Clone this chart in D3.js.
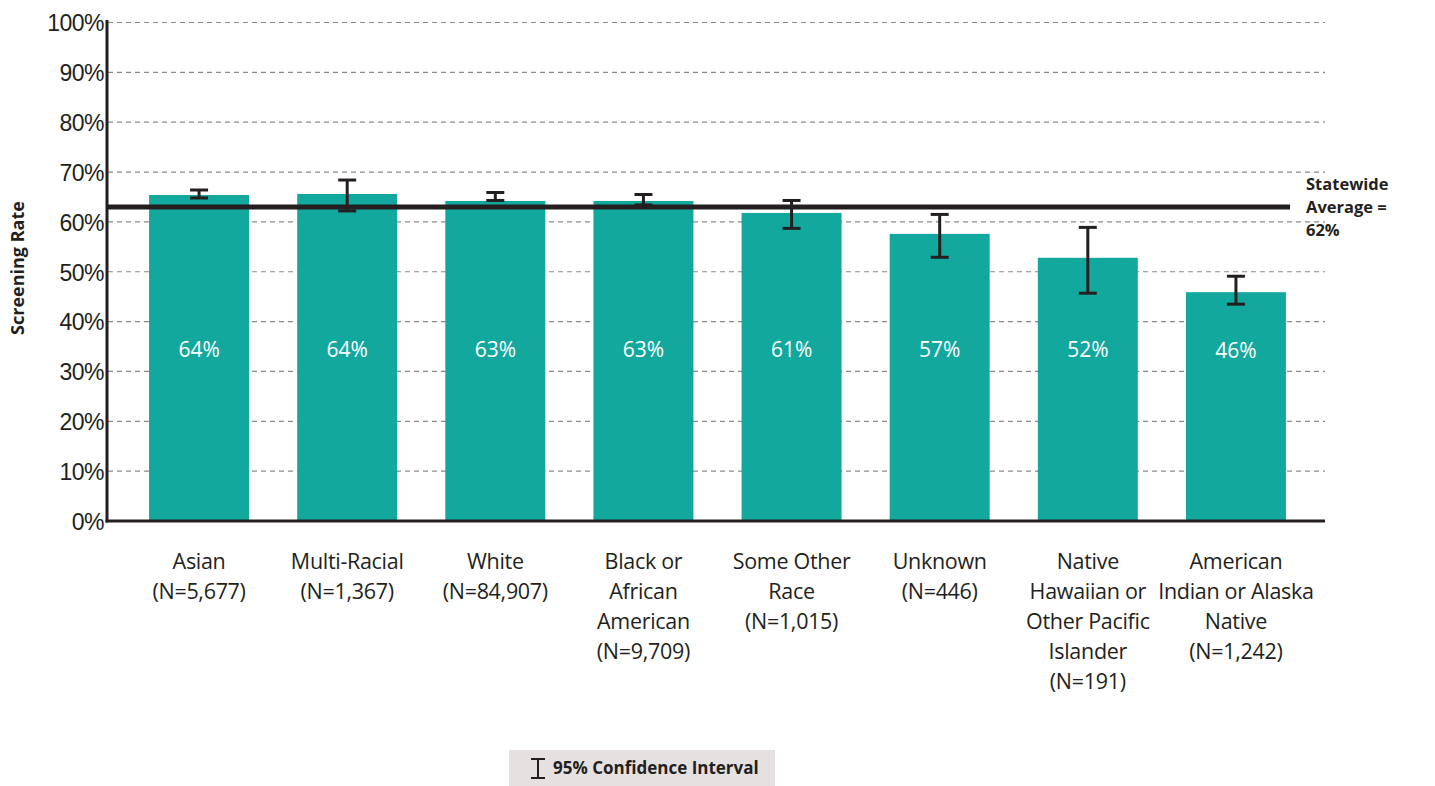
<!DOCTYPE html>
<html><head><meta charset="utf-8">
<script src="https://cdn.jsdelivr.net/npm/d3@7/dist/d3.min.js"></script>
<style>body{margin:0;background:#fff;} svg{display:block;font-family:"Open Sans","Noto Sans",sans-serif;}</style>
</head><body>
<svg id="c" width="1435" height="786"></svg>
<script>
const categories = [
  ["Asian","(N=5,677)"],
  ["Multi-Racial","(N=1,367)"],
  ["White","(N=84,907)"],
  ["Black or","African","American","(N=9,709)"],
  ["Some Other","Race","(N=1,015)"],
  ["Unknown","(N=446)"],
  ["Native","Hawaiian or","Other Pacific","Islander","(N=191)"],
  ["American","Indian or Alaska","Native","(N=1,242)"]
];
const rates = [65.4, 65.6, 64.2, 64.2, 61.8, 57.6, 52.8, 45.9];
const rateLabels = ["64%","64%","63%","63%","61%","57%","52%","46%"];
const ciLow  = [64.8, 62.2, 64.3, 63.4, 58.7, 52.9, 45.7, 43.5];
const ciHigh = [66.4, 68.4, 65.9, 65.5, 64.3, 61.5, 58.9, 49.1];
const statewide = 63.0;
const statewideLabel = ["Statewide","Average =","62%"];
const yTicks = [0,10,20,30,40,50,60,70,80,90,100];

const svg = d3.select("#c");
const ink = "#231f20";
const y = d3.scaleLinear().domain([0,100]).range([521,22.5]);
const x = d3.scaleBand().domain(d3.range(categories.length)).range([125,1310]).paddingInner(0.325).paddingOuter(0.1625);

// gridlines
svg.append("g").selectAll("line").data(yTicks.filter(d=>d>0)).join("line")
  .attr("x1",108).attr("x2",1325).attr("y1",d=>y(d)).attr("y2",d=>y(d))
  .attr("stroke","#8a8a8a").attr("stroke-width",1.2).attr("stroke-dasharray","5,4");

// y axis labels
const yAxis = d3.axisLeft(y).tickValues(yTicks).tickFormat(d=>d+"%").tickSize(0).tickPadding(3);
const ya = svg.append("g").attr("transform","translate(107,0)").call(yAxis);
ya.select(".domain").remove();
ya.selectAll("text").attr("font-size",23).attr("fill",ink).attr("dy","0.36em").attr("letter-spacing","-0.5");

// bars
svg.append("g").selectAll("rect").data(rates).join("rect")
  .attr("x",(d,i)=>x(i)).attr("width",x.bandwidth())
  .attr("y",d=>y(d)).attr("height",d=>y(0)-y(d)).attr("fill","#13a89e");

// bar value labels
svg.append("g").selectAll("text").data(rateLabels).join("text")
  .attr("x",(d,i)=>x(i)+x.bandwidth()/2).attr("y",(d,i)=>i===7?358:357)
  .attr("text-anchor","middle").attr("font-size",21).attr("fill","#fff").text(d=>d);

// statewide line
svg.append("line").attr("x1",107).attr("x2",1290).attr("y1",y(statewide)).attr("y2",y(statewide))
  .attr("stroke",ink).attr("stroke-width",5);

// error bars
const eg = svg.append("g").attr("stroke",ink).attr("stroke-width",3);
categories.forEach((c,i)=>{
  const cx = x(i)+x.bandwidth()/2;
  eg.append("line").attr("x1",cx).attr("x2",cx).attr("y1",y(ciHigh[i])).attr("y2",y(ciLow[i]));
  eg.append("line").attr("x1",cx-9).attr("x2",cx+9).attr("y1",y(ciHigh[i])).attr("y2",y(ciHigh[i]));
  eg.append("line").attr("x1",cx-9).attr("x2",cx+9).attr("y1",y(ciLow[i])).attr("y2",y(ciLow[i]));
});

// axes lines
svg.append("line").attr("x1",107).attr("x2",107).attr("y1",20).attr("y2",522.5).attr("stroke",ink).attr("stroke-width",3);
svg.append("line").attr("x1",105.5).attr("x2",1325).attr("y1",521).attr("y2",521).attr("stroke",ink).attr("stroke-width",3);

// statewide label
svg.append("text").attr("x",1306).attr("y",190).attr("font-size",16.5).attr("font-weight","bold").attr("fill",ink)
  .selectAll("tspan").data(statewideLabel).join("tspan").attr("x",1306).attr("dy",(d,i)=>i?23:0).text(d=>d);

// category labels
const cl = svg.append("g");
categories.forEach((lines,i)=>{
  const t = cl.append("text").attr("x",x(i)+x.bandwidth()/2).attr("y",569).attr("text-anchor","middle")
    .attr("font-size",21.5).attr("fill",ink).attr("letter-spacing","-0.3");
  lines.forEach((l,j)=>t.append("tspan").attr("x",x(i)+x.bandwidth()/2).attr("dy",j?30:0).text(l));
});

// y title
svg.append("text").attr("transform","translate(24,268) rotate(-90)").attr("text-anchor","middle")
  .attr("font-size",18).attr("font-weight","bold").attr("fill",ink).text("Screening Rate");

// legend
const lg = svg.append("g");
lg.append("rect").attr("x",509).attr("y",750).attr("width",266).attr("height",36).attr("fill","#e5e1e1");
lg.append("line").attr("x1",538).attr("x2",538).attr("y1",759).attr("y2",778).attr("stroke",ink).attr("stroke-width",2);
lg.append("line").attr("x1",531).attr("x2",545).attr("y1",759).attr("y2",759).attr("stroke",ink).attr("stroke-width",2);
lg.append("line").attr("x1",531).attr("x2",545).attr("y1",778).attr("y2",778).attr("stroke",ink).attr("stroke-width",2);
lg.append("text").attr("x",553).attr("y",774).attr("font-size",17).attr("font-weight","bold").attr("fill",ink).text("95% Confidence Interval");
</script>
</body></html>
